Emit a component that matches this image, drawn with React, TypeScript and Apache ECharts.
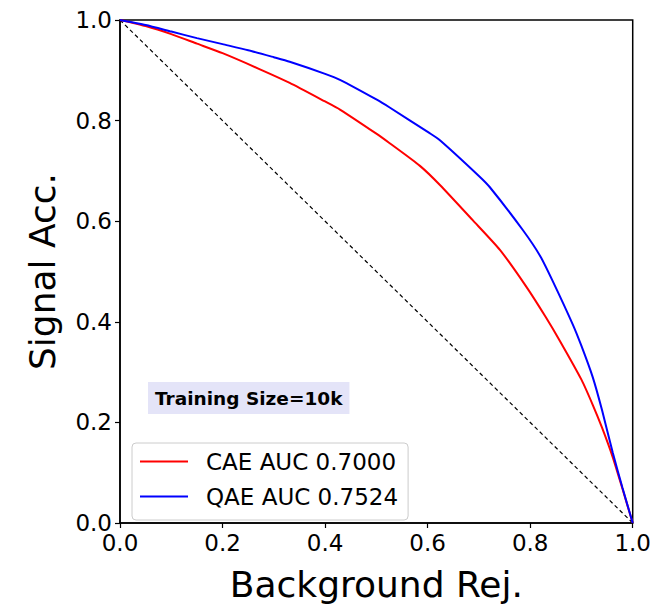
import React, { useEffect, useRef } from "react";
import * as echarts from "echarts";

const cae_x = [0, 0.05, 0.1, 0.15, 0.2, 0.273, 0.331, 0.4, 0.429, 0.5, 0.526, 0.585, 0.624, 0.688, 0.741, 0.793, 0.83, 0.858, 0.9, 0.922, 0.94, 0.961, 0.98, 1.0];
const cae_y = [1.0, 0.988, 0.972, 0.953, 0.934, 0.902, 0.875, 0.838, 0.822, 0.774, 0.755, 0.71, 0.672, 0.602, 0.543, 0.469, 0.41, 0.362, 0.285, 0.235, 0.19, 0.131, 0.068, 0.0];

const qae_x = [0, 0.05, 0.1, 0.15, 0.2, 0.25, 0.3, 0.331, 0.4, 0.429, 0.5, 0.526, 0.604, 0.624, 0.7, 0.721, 0.786, 0.82, 0.844, 0.883, 0.9, 0.922, 0.94, 0.961, 0.98, 1.0];
const qae_y = [1.0, 0.99, 0.977, 0.964, 0.952, 0.94, 0.926, 0.917, 0.893, 0.881, 0.842, 0.826, 0.775, 0.761, 0.69, 0.668, 0.582, 0.53, 0.481, 0.395, 0.352, 0.29, 0.225, 0.14, 0.07, 0.0];

const diag_x = [0, 1];
const diag_y = [1, 0];

const seriesNames = ["CAE AUC 0.7000", "QAE AUC 0.7524"];
const xTitle = "Background Rej.";
const yTitle = "Signal Acc.";
const annotation = "Training Size=10k";

const zip = (xs: number[], ys: number[]) => xs.map((x, i) => [x, ys[i]]);

const FONT = "DejaVu Sans";

export default function App() {
  const ref = useRef<HTMLDivElement>(null);
  useEffect(() => {
    if (!ref.current) return;
    const chart = echarts.init(ref.current, null, { renderer: "svg" });
    chart.setOption({
      animation: false,
      backgroundColor: "#ffffff",
      grid: {
        left: 120,
        right: 21,
        top: 20,
        bottom: 85,
        show: true,
        borderColor: "#000000",
        borderWidth: 1.5,
        containLabel: false,
      },
      xAxis: {
        type: "value",
        min: 0,
        max: 1,
        interval: 0.2,
        name: xTitle,
        nameLocation: "middle",
        nameGap: 43,
        nameTextStyle: { fontFamily: FONT, fontSize: 36, color: "#000" },
        axisLine: { show: true, onZero: false, lineStyle: { color: "#000", width: 1.5 } },
        axisTick: { show: true, inside: false, length: 5, lineStyle: { color: "#000", width: 1.2 } },
        axisLabel: {
          margin: 8,
          fontFamily: FONT,
          fontSize: 23,
          color: "#000",
          formatter: (v: number) => v.toFixed(1),
        },
        splitLine: { show: false },
      },
      yAxis: {
        type: "value",
        min: 0,
        max: 1,
        interval: 0.2,
        name: yTitle,
        nameLocation: "middle",
        nameGap: 60,
        nameTextStyle: { fontFamily: FONT, fontSize: 36, color: "#000" },
        axisLine: { show: true, onZero: false, lineStyle: { color: "#000", width: 1.5 } },
        axisTick: { show: true, inside: false, length: 5, lineStyle: { color: "#000", width: 1.2 } },
        axisLabel: {
          margin: 8,
          fontFamily: FONT,
          fontSize: 23,
          color: "#000",
          formatter: (v: number) => v.toFixed(1),
        },
        splitLine: { show: false },
      },
      legend: {
        orient: "vertical",
        left: 132,
        top: 443,
        data: seriesNames,
        icon: "rect",
        itemWidth: 48,
        itemHeight: 2,
        itemGap: 12,
        padding: [7, 10, 12, 8],
        backgroundColor: "rgba(255,255,255,0.85)",
        borderColor: "#cccccc",
        borderWidth: 1,
        borderRadius: 4,
        textStyle: {
          fontFamily: FONT,
          fontSize: 23,
          color: "#000",
          padding: [0, 0, 0, 13],
          lineHeight: 23,
        },
      },
      series: [
        {
          name: "diag",
          type: "line",
          data: zip(diag_x, diag_y),
          showSymbol: false,
          symbol: "none",
          lineStyle: { color: "#000", width: 1.2, type: [4, 3] },
          silent: true,
          z: 1,
        },
        {
          name: seriesNames[0],
          type: "line",
          data: zip(cae_x, cae_y),
          showSymbol: false,
          symbol: "none",
          smooth: 0.2,
          itemStyle: { color: "#ff0000" },
          lineStyle: { color: "#ff0000", width: 2 },
          z: 2,
        },
        {
          name: seriesNames[1],
          type: "line",
          data: zip(qae_x, qae_y),
          showSymbol: false,
          symbol: "none",
          smooth: 0.2,
          itemStyle: { color: "#0000ff" },
          lineStyle: { color: "#0000ff", width: 2 },
          z: 3,
        },
      ],
      graphic: [
        {
          type: "text",
          left: 148,
          top: 382,
          z: 10,
          style: {
            text: annotation,
            font: `bold 18.5px "${FONT}"`,
            fill: "#000",
            backgroundColor: "#e4e4f8",
            padding: [7, 7, 6, 7],
          },
        },
      ],
    });
    return () => chart.dispose();
  }, []);
  return (
    <div
      ref={ref}
      style={{ position: "absolute", left: 0, top: 0, width: 654, height: 608 }}
    />
  );
}
